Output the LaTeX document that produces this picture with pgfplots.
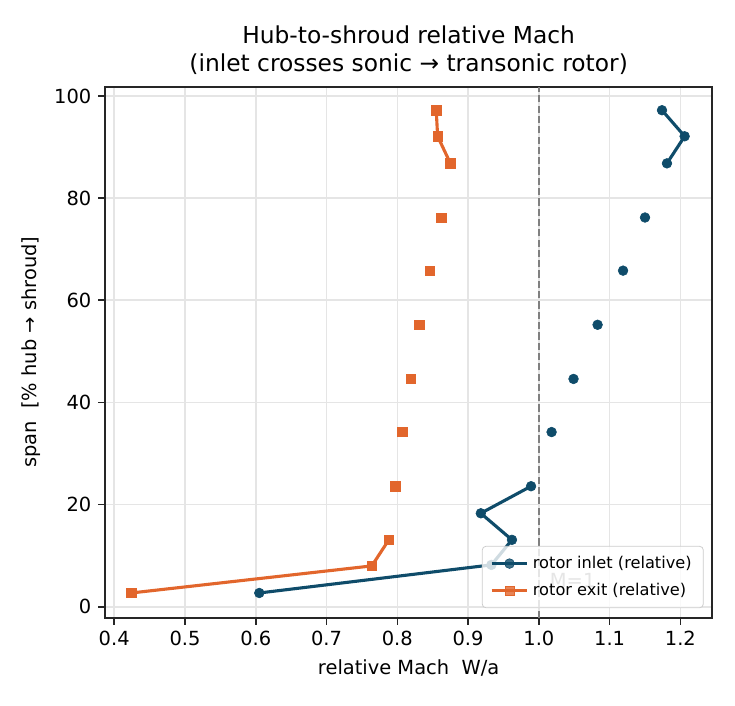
\documentclass[border=0pt]{standalone}
\usepackage{fontspec}
\setmainfont{DejaVu Sans}
\usepackage{pgfplots}
\pgfplotsset{compat=1.18}
\definecolor{cblue}{HTML}{0F4C6A}
\definecolor{corange}{HTML}{E2662C}
\definecolor{frame}{HTML}{262626}
\pgfplotstableread{
x y
0.605 2.7
0.933 8.2
0.962 13.1
0.918 18.3
0.989 23.6
nan nan
1.018 34.2
nan nan
1.049 44.6
nan nan
1.083 55.2
nan nan
1.119 65.8
nan nan
1.150 76.2
nan nan
1.181 86.8
1.206 92.1
1.174 97.2
}\inlet
\pgfplotstableread{
x y
0.424 2.7
0.764 8.0
0.788 13.1
nan nan
0.797 23.6
nan nan
0.807 34.2
nan nan
0.819 44.6
nan nan
0.831 55.2
nan nan
0.846 65.8
nan nan
0.862 76.2
nan nan
0.875 86.8
0.857 92.1
0.855 97.2
}\exit
\begin{document}
\begin{tikzpicture}
\useasboundingbox (-54pt,-44.9pt) rectangle (324pt,317.7pt);
\begin{axis}[
  scale only axis, width=312.3pt, height=273.1pt,
  xmin=0.387, xmax=1.245, ymin=-2.15, ymax=101.8,
  xtick={0.4,0.5,0.6,0.7,0.8,0.9,1.0,1.1,1.2},
  ytick={0,20,40,60,80,100},
  xticklabel style={/pgf/number format/.cd, fixed, fixed zerofill, precision=1},
  /pgf/number format/assume math mode=true,
  grid=major, grid style={line width=0.8pt, color=black!10},
  axis line style={line width=0.8pt, color=frame},
  tick style={line width=0.8pt, color=frame},
  tick align=outside, major tick length=3.5pt, tick pos=left,
  ticklabel style={font=\fontsize{10}{12}\selectfont, text=black},
  title={Hub-to-shroud relative Mach\\(inlet crosses sonic → transonic rotor)},
  title style={align=center, font=\fontsize{12}{14.4}\selectfont, yshift=-3.5pt},
  xlabel={relative Mach\ \ W/a}, ylabel={span\ \ [\% hub → shroud]},
  label style={font=\fontsize{10}{12}\selectfont},
  unbounded coords=jump,
  legend cell align=left,
  legend style={at={(0.986,0.018)}, anchor=south east, draw=black!20, fill=white,
    fill opacity=0.8, text opacity=1, rounded corners=2pt,
    font=\fontsize{8.33}{10}\selectfont, row sep=2pt, inner xsep=4pt, inner ysep=3pt},
  legend image code/.code={
    \draw[#1] (0cm,0cm) -- (0.65cm,0cm);
    \draw[#1, only marks] plot coordinates {(0.325cm,0cm)};
  },
]
\addplot[gray, line width=1pt, dash pattern=on 3.7pt off 1.6pt, forget plot] coordinates {(1,-2.15) (1,101.8)};
\node[anchor=west, text=gray, font=\fontsize{10}{12}\selectfont] at (axis cs:1.006,5.2) {M=1};
\addplot[cblue, line width=1.6pt, mark=*, mark size=2.5pt, mark options={solid, fill=cblue, draw=cblue, line width=0.3pt}] table[x=x, y=y] {\inlet};
\addlegendentry{rotor inlet (relative)}
\addplot[corange, line width=1.6pt, mark=square*, mark size=2.4pt, mark options={solid, fill=corange, draw=corange, line width=0.3pt}] table[x=x, y=y] {\exit};
\addlegendentry{rotor exit (relative)}
\end{axis}
\end{tikzpicture}
\end{document}
